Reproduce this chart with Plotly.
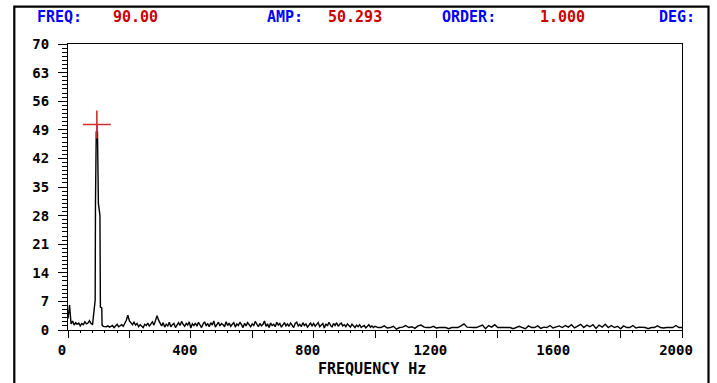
import plotly.graph_objects as go

# ---------------- data ----------------
freq_low = list(range(0, 85, 5))
amp_low = [2.8, 6.1, 1.5, 2.2, 1.2, 1.8, 1.4, 1.7, 1.0, 1.6, 1.3, 2.0, 1.5, 1.7, 2.3, 1.6, 1.4]

freq_peak = [88.5, 89.5, 92, 96, 99, 104, 105.5, 110, 111]
amp_peak = [7.3, 31.0, 48.5, 48.5, 31.0, 28.0, 5.6, 5.4, 1.2]

freq_mid = list(range(115, 1005, 5))
amp_mid = [
    0.9, 0.8, 0.8, 1.0, 0.7, 0.9, 1.1, 0.6, 0.9, 1.4, 0.8, 1.0, 1.3, 0.9, 1.6, 2.4, 3.6, 2.2, 1.8, 1.3,
    1.9, 1.2, 1.6, 0.8, 1.3, 1.0, 0.6, 1.4, 1.1, 1.7, 0.9, 1.5, 2.0, 1.2, 2.6, 3.5, 2.4, 1.6, 1.0, 1.8,
    0.7, 1.4, 1.0, 1.9, 0.8, 1.3, 1.6, 0.6, 1.2, 1.8, 1.1, 2.1, 1.4, 0.9, 1.6, 1.2, 2.0, 0.5, 1.5, 1.1,
    1.7, 0.9, 1.9, 1.3, 0.6, 1.5, 2.0, 1.0, 1.6, 0.8, 1.8, 1.2, 2.2, 0.7, 1.5, 1.9, 1.0, 1.6, 1.3, 0.8,
    2.0, 1.1, 1.7, 0.9, 1.4, 1.8, 0.7, 1.5, 1.1, 1.9, 1.3, 0.6, 1.6, 1.0, 1.8, 1.2, 0.8, 1.5, 1.1, 2.1,
    1.3, 0.8, 1.6, 1.0, 1.4, 2.2, 0.9, 1.5, 0.6, 1.7, 1.1, 1.4, 0.8, 1.9, 1.2, 1.6, 0.7, 1.3, 1.8, 1.0,
    1.5, 0.9, 1.7, 1.2, 0.6, 1.6, 1.9, 1.0, 1.4, 0.8, 1.8, 1.1, 1.5, 0.7, 1.3, 1.7, 1.0, 1.6, 0.9, 1.4,
    1.8, 0.8, 1.3, 1.6, 0.5, 1.5, 1.0, 1.9, 1.2, 0.7, 1.6, 1.1, 1.8, 0.9, 1.4, 1.7, 1.0, 1.3, 0.8, 1.5,
    1.1, 0.7, 1.4, 1.0, 0.6, 1.2, 0.8, 1.3, 0.6, 0.9, 1.1, 0.5, 0.8, 1.3, 0.7, 1.0, 0.6, 0.9,
]

freq_high = list(range(1010, 2010, 10))
amp_high = [
    0.6, 0.6, 1.0, 0.5, 0.6, 0.9, 0.2, 0.6, 0.7, 1.1,
    0.6, 0.8, 0.4, 1.0, 1.2, 0.7, 0.6, 0.6, 0.9, 0.5,
    0.6, 0.6, 0.6, 0.3, 0.6, 0.6, 0.6, 1.0, 1.5, 0.7,
    0.6, 0.6, 0.6, 0.9, 1.2, 0.3, 1.1, 0.7, 1.3, 0.6,
    0.6, 0.6, 0.6, 0.6, 0.3, 0.7, 0.9, 0.6, 0.3, 1.0,
    0.6, 0.6, 1.0, 0.4, 0.7, 0.6, 1.1, 0.5, 0.8, 1.0,
    0.6, 1.1, 0.7, 1.3, 0.5, 1.0, 1.4, 0.6, 1.2, 0.8,
    1.3, 0.4, 1.2, 0.7, 1.4, 0.6, 1.1, 0.6, 0.9, 0.3,
    1.0, 0.6, 0.6, 1.1, 0.5, 0.7, 0.6, 0.6, 0.3, 0.6,
    0.6, 1.0, 0.6, 0.5, 0.6, 0.6, 0.6, 1.1, 0.6, 0.6,
]

cursor_freq = 94
cursor_amp = 50.293
cursor_base = 48.5

header = [("FREQ:", "#0000ff"), ("90.00", "#cc0000"), ("AMP:", "#0000ff"), ("50.293", "#cc0000"),
          ("ORDER:", "#0000ff"), ("1.000", "#cc0000"), ("DEG:", "#0000ff")]
header_x_px = [59, 135, 285, 355, 469, 562, 677]

x_tickvals = list(range(0, 2200, 200))
x_ticktext = ["0", "", "400", "", "800", "", "1200", "", "1600", "", "2000"]
y_tickvals = list(range(0, 77, 7))

# ---------------- figure ----------------
W, H = 717, 383
PL, PR, PT, PB = 68, 682, 44, 330          # plot box in window pixels
L, R, T, B = PL, W - PR, PT, H - PB
pw, ph = W - L - R, H - T - B

def px_x(p):
    return (p - PL) / pw

def px_y(p):
    return (PB - p) / ph

freq = freq_low + freq_peak + freq_mid + freq_high
amp = amp_low + amp_peak + amp_mid + amp_high

FONT = "DejaVu Sans Mono"

fig = go.Figure()
fig.add_trace(go.Scatter(x=freq, y=amp, mode="lines",
                         line=dict(color="black", width=1.4), hoverinfo="skip", showlegend=False))
fig.add_trace(go.Scatter(x=[cursor_freq, cursor_freq], y=[cursor_base, cursor_amp], mode="lines",
                         line=dict(color="#0000ff", width=1.5), showlegend=False))
fig.add_trace(go.Scatter(x=[cursor_freq], y=[cursor_amp], mode="markers",
                         marker=dict(symbol="cross-thin", size=20, line=dict(color="#d03030", width=1.6)),
                         showlegend=False))

annotations = []
for (txt, col), xp in zip(header, header_x_px):
    annotations.append(dict(text=txt, x=px_x(xp), y=px_y(17), xref="paper", yref="paper",
                            showarrow=False, xanchor="center", yanchor="middle",
                            font=dict(family=FONT, size=15, color=col, weight="bold")))
annotations.append(dict(text="FREQUENCY Hz", x=px_x(372), y=px_y(369), xref="paper", yref="paper",
                        showarrow=False, xanchor="center", yanchor="middle",
                        font=dict(family=FONT, size=15, color="black", weight="bold")))

fig.update_layout(
    width=W, height=H,
    margin=dict(l=L, r=R, t=T, b=B),
    paper_bgcolor="white", plot_bgcolor="white",
    annotations=annotations,
    shapes=[dict(type="rect", xref="paper", yref="paper",
                 x0=px_x(14.3), x1=px_x(708.5), y0=px_y(420), y1=px_y(6.7),
                 line=dict(color="black", width=2.2), layer="above")],
    xaxis=dict(range=[0, 2000], tickmode="array", tickvals=x_tickvals, ticktext=x_ticktext,
               ticks="outside", ticklen=7, tickwidth=1, tickcolor="black",
               showline=True, linecolor="black", linewidth=1, mirror=True,
               showgrid=False, zeroline=False, ticklabelshift=-6,
               minor=dict(dtick=40, ticks="outside", ticklen=2, tickcolor="black", showgrid=False),
               tickfont=dict(family=FONT, size=14, color="black", weight="bold")),
    yaxis=dict(range=[0, 70], tickmode="array", tickvals=y_tickvals,
               ticks="outside", ticklen=9, tickwidth=1, tickcolor="black",
               showline=True, linecolor="black", linewidth=1, mirror=True,
               showgrid=False, zeroline=False, ticklabelstandoff=6,
               minor=dict(dtick=1, ticks="outside", ticklen=5, tickcolor="black", showgrid=False),
               tickfont=dict(family=FONT, size=14, color="black", weight="bold")),
)

fig.write_html("out.html", config={"displayModeBar": False},
               post_script="document.body.style.margin='0';document.body.style.overflow='hidden';")
